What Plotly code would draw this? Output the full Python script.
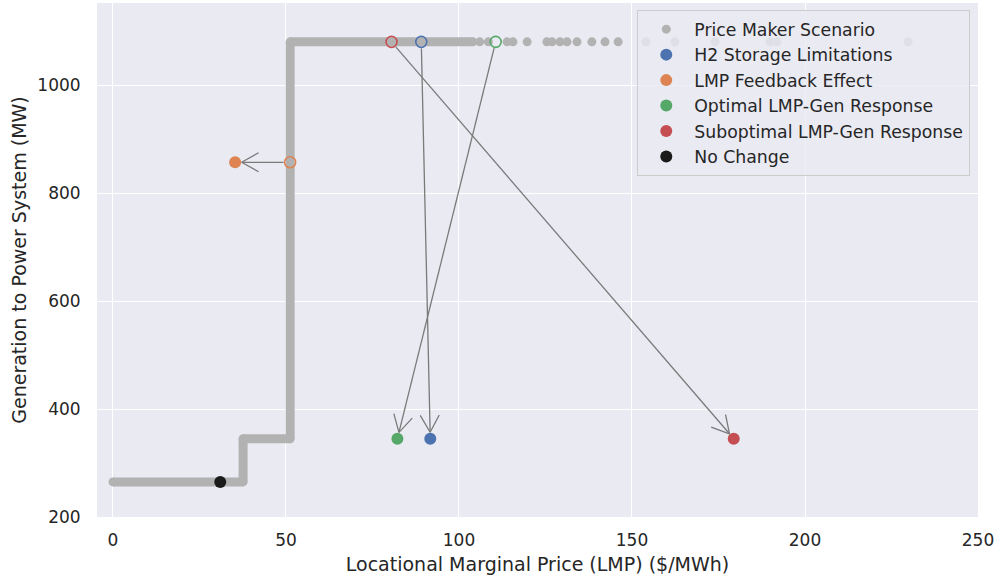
import plotly.graph_objects as go

# ---- data -------------------------------------------------------------
# Price-maker operating curve (LMP $/MWh, generation MW): dense hourly points
# collapse onto this stepped path (corner vertices)
step_lmp = [0.0, 37.6, 37.6, 51.2, 51.2, 104.0]
step_gen = [265, 265, 345, 345, 1080, 1080]

# isolated high-price hours at full output
sparse_lmp = [106.0, 108.5, 113.9, 115.6, 119.7, 125.4, 126.9,
              129.2, 131.2, 134.1, 138.4, 142.2, 146.0, 154.0, 162.4, 174.0,
              189.9, 191.9, 229.8]
sparse_gen = [1080] * len(sparse_lmp)

# scenario shifts: (from LMP, from gen) -> (to LMP, to gen)
scenarios = [
    # name, color, from_lmp, from_gen, to_lmp, to_gen
    ("H2 Storage Limitations", "#4C72B0", 89.1, 1080, 91.7, 345),
    ("LMP Feedback Effect", "#DD8452", 51.2, 857, 35.3, 857),
    ("Optimal LMP-Gen Response", "#55A868", 110.6, 1080, 82.2, 345),
    ("Suboptimal LMP-Gen Response", "#C44E52", 80.5, 1080, 179.4, 345),
]
no_change_lmp = [31.0]
no_change_gen = [265]

# ---- layout geometry ---------------------------------------------------
FIG_W, FIG_H = 996, 577
M_L, M_R, M_T, M_B = 97, 18, 3, 60
PLOT_W = FIG_W - M_L - M_R
PLOT_H = FIG_H - M_T - M_B
X_RANGE = [-4.62, 250]
Y_RANGE = [200, 1152]

GRAY = "#b2b2b2"
ARROW = "#7a7a7a"
TEXT = "#262626"
FONT = "DejaVu Sans"


def to_px(x, y):
    px = (x - X_RANGE[0]) / (X_RANGE[1] - X_RANGE[0]) * PLOT_W
    py = (y - Y_RANGE[0]) / (Y_RANGE[1] - Y_RANGE[0]) * PLOT_H
    return px, py


def to_data(px, py):
    x = X_RANGE[0] + px / PLOT_W * (X_RANGE[1] - X_RANGE[0])
    y = Y_RANGE[0] + py / PLOT_H * (Y_RANGE[1] - Y_RANGE[0])
    return x, y


def arrow_path(x0, y0, x1, y1, shrink=6.5, head_len=17.0, head_half=9.5):
    """Shaft plus open chevron head, computed in screen space."""
    p0x, p0y = to_px(x0, y0)
    p1x, p1y = to_px(x1, y1)
    dx, dy = p1x - p0x, p1y - p0y
    d = (dx * dx + dy * dy) ** 0.5
    ux, uy = dx / d, dy / d
    nx, ny = -uy, ux
    sx, sy = p0x + ux * shrink, p0y + uy * shrink
    tx, ty = p1x - ux * shrink, p1y - uy * shrink
    bx, by = tx - ux * head_len, ty - uy * head_len
    pts = [(sx, sy), (tx, ty), None,
           (bx + nx * head_half, by + ny * head_half), (tx, ty),
           (bx - nx * head_half, by - ny * head_half)]
    xs, ys = [], []
    for p in pts:
        if p is None:
            xs.append(None)
            ys.append(None)
        else:
            X, Y = to_data(*p)
            xs.append(X)
            ys.append(Y)
    return xs, ys


def split_segments(xs, ys):
    """Break a polyline into separate segments so each has butt ends;
    markers at the vertices then give rounded corners."""
    sx, sy = [], []
    for i in range(len(xs) - 1):
        sx += [xs[i], xs[i + 1], None]
        sy += [ys[i], ys[i + 1], None]
    return sx, sy


fig = go.Figure()

# stepped body of the price-maker cloud
seg_x, seg_y = split_segments(step_lmp, step_gen)
fig.add_trace(go.Scatter(
    x=seg_x, y=seg_y, mode="lines", connectgaps=False,
    line=dict(color=GRAY, width=9), showlegend=False, hoverinfo="skip"))

fig.add_trace(go.Scatter(
    x=step_lmp + sparse_lmp, y=step_gen + sparse_gen, mode="markers",
    marker=dict(color=GRAY, size=9), name="Price Maker Scenario"))

# arrows from original to shifted operating points
for name, color, fx, fy, tx, ty in scenarios:
    ax, ay = arrow_path(fx, fy, tx, ty)
    fig.add_trace(go.Scatter(
        x=ax, y=ay, mode="lines", line=dict(color=ARROW, width=1.3),
        showlegend=False, hoverinfo="skip"))

# original points (open) and shifted points (filled)
for name, color, fx, fy, tx, ty in scenarios:
    fig.add_trace(go.Scatter(
        x=[fx], y=[fy], mode="markers", showlegend=False,
        marker=dict(symbol="circle-open", size=11, color=color,
                    line=dict(width=1.6, color=color))))

for name, color, fx, fy, tx, ty in scenarios:
    fig.add_trace(go.Scatter(
        x=[tx], y=[ty], mode="markers", name=name,
        marker=dict(size=12, color=color)))

fig.add_trace(go.Scatter(
    x=no_change_lmp, y=no_change_gen, mode="markers", name="No Change",
    marker=dict(size=12, color="#1b1b1b")))

axis_common = dict(
    showgrid=True, gridcolor="white", gridwidth=1.3, zeroline=False,
    showline=False, ticks="outside", tickcolor="rgba(0,0,0,0)",
    tickfont=dict(family=FONT, size=17, color=TEXT),
    title_font=dict(family=FONT, size=19, color=TEXT),
)

fig.update_layout(
    width=FIG_W, height=FIG_H,
    margin=dict(l=M_L, r=M_R, t=M_T, b=M_B, autoexpand=False),
    paper_bgcolor="white", plot_bgcolor="#EAEAF2",
    font=dict(family=FONT, color=TEXT),
    xaxis=dict(range=X_RANGE, tickvals=[0, 50, 100, 150, 200, 250],
               ticklen=8, title=dict(text="Locational Marginal Price (LMP) ($/MWh)",
                                      standoff=8),
               **axis_common),
    yaxis=dict(range=Y_RANGE, tickvals=[200, 400, 600, 800, 1000],
               ticklen=12, title=dict(text="Generation to Power System (MW)",
                                      standoff=5),
               **axis_common),
    legend=dict(x=0.991, y=0.986, xanchor="right", yanchor="top",
                bgcolor="rgba(234,234,242,0.8)", bordercolor="#cccccc",
                borderwidth=1.2, font=dict(family=FONT, size=17.3, color=TEXT),
                itemwidth=46, tracegroupgap=0),
)

fig.write_html("out.html")
